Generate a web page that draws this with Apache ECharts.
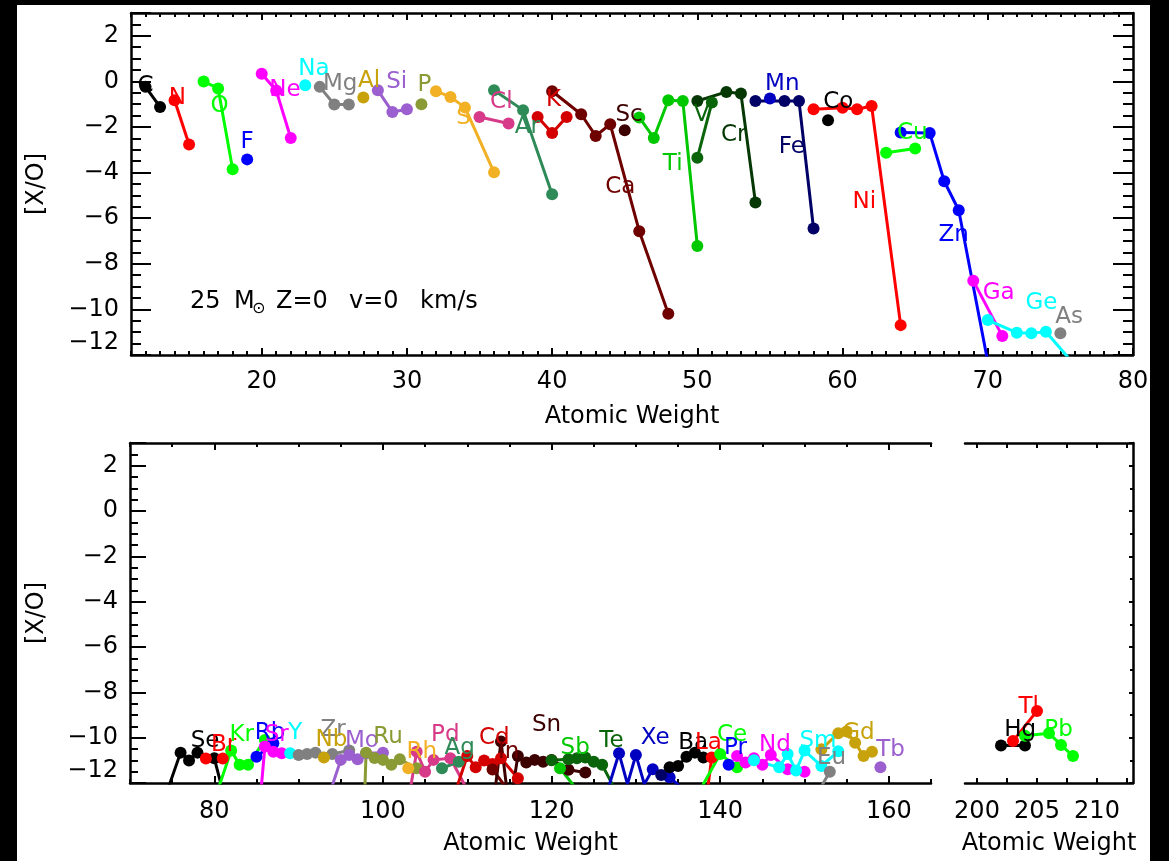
<!DOCTYPE html>
<html><head><meta charset="utf-8">
<script src="https://cdn.jsdelivr.net/npm/echarts@6/dist/echarts.min.js"></script>
<style>html,body{margin:0;padding:0;background:#fff;} #c{width:1169px;height:861px;}</style>
</head><body><div id="c"></div>
<script>
// ===== DATA: [atomic weight, [X/O]] =====
// --- top panel (C .. As) ---
const C_iso  = [[12,-0.24],[13,-1.12]];
const N_iso  = [[14,-0.83],[15,-2.77]];
const O_iso  = [[16,0.0],[17,-0.31],[18,-3.85]];
const F_iso  = [[19,-3.42]];
const Ne_iso = [[20,0.34],[21,-0.4],[22,-2.48]];
const Na_iso = [[23,-0.17]];
const Mg_iso = [[24,-0.24],[25,-1.01],[26,-1.01]];
const Al_iso = [[27,-0.71]];
const Si_iso = [[28,-0.39],[29,-1.34],[30,-1.22]];
const P_iso  = [[31,-1.0]];
const S_iso  = [[32,-0.43],[33,-0.68],[34,-1.15],[36,-3.99]];
const Cl_iso = [[35,-1.56],[37,-1.85]];
const Ar_iso = [[36,-0.39],[38,-1.26],[40,-4.95]];
const K_iso  = [[39,-1.56],[40,-2.26],[41,-1.56]];
const Ca_iso = [[40,-0.43],[42,-1.44],[43,-2.39],[44,-1.88],[46,-6.57],[48,-10.19]];
const Sc_iso = [[45,-2.14]];
const Ti_iso = [[46,-1.58],[47,-2.48],[48,-0.83],[49,-0.86],[50,-7.22]];
const V_iso  = [[50,-3.35],[51,-0.93]];
const Cr_iso = [[50,-0.86],[52,-0.46],[53,-0.53],[54,-5.31]];
const Mn_iso = [[55,-0.75]];
const Fe_iso = [[54,-0.86],[56,-0.86],[57,-0.86],[58,-6.45]];
const Co_iso = [[59,-1.70]];
const Ni_iso = [[58,-1.22],[60,-1.16],[61,-1.22],[62,-1.08],[64,-10.69]];
const Cu_iso = [[63,-3.13],[65,-2.94]];
const Zn_iso = [[64,-2.24],[66,-2.26],[67,-4.38],[68,-5.65],[70,-12.3]];
const Ga_iso = [[69,-8.74],[71,-11.17]];
const Ge_iso = [[70,-10.47],[72,-11.02],[73,-11.05],[74,-10.98],[76,-12.45]];
const As_iso = [[75,-11.05]];

const topNames = ['C','N','O','F','Ne','Na','Mg','Al','Si','P','S','Cl','Ar','K','Ca','Sc','Ti','V','Cr','Mn','Fe','Co','Ni','Cu','Zn','Ga','Ge','As'];
const topData = [C_iso,N_iso,O_iso,F_iso,Ne_iso,Na_iso,Mg_iso,Al_iso,Si_iso,P_iso,S_iso,Cl_iso,Ar_iso,K_iso,Ca_iso,Sc_iso,Ti_iso,V_iso,Cr_iso,Mn_iso,Fe_iso,Co_iso,Ni_iso,Cu_iso,Zn_iso,Ga_iso,Ge_iso,As_iso];
const topLabelAt = [[12.0,-0.2],[14.2,-0.75],[17.1,-1.1],[19.0,-2.65],[21.6,-0.4],[23.6,0.56],[25.4,-0.13],[27.4,0.0],[29.3,-0.02],[31.2,-0.17],[33.9,-1.6],[36.5,-0.9],[38.3,-2.0],[40.1,-0.83],[44.7,-4.62],[45.3,-1.48],[48.3,-3.63],[50.3,-1.48],[52.5,-2.36],[55.85,-0.12],[56.5,-2.9],[59.7,-0.9],[61.5,-5.28],[64.8,-2.26],[67.65,-6.74],[70.75,-9.3],[73.7,-9.7],[75.6,-10.35]];

// --- bottom panel (Se .. Tb) ---
const Se_iso = [[74,-12.8],[76,-10.66],[77,-11.01],[78,-10.66],[80,-10.91],[82,-13.8]];
const Br_iso = [[79,-10.92],[81,-10.92]];
const Kr_iso = [[78,-15],[80,-12.77],[82,-10.57],[83,-11.2],[84,-11.2],[86,-10.1]];
const Rb_iso = [[85,-10.84],[87,-10.25]];
const Sr_iso = [[84,-18.8],[86,-10.39],[87,-10.62],[88,-10.69]];
const Y_iso  = [[89,-10.69]];
const Zr_iso = [[90,-10.76],[91,-10.72],[92,-10.66],[94,-10.72],[96,-10.57]];
const Nb_iso = [[93,-10.88]];
const Mo_iso = [[92,-14.5],[94,-12.1],[95,-10.98],[96,-10.76],[97,-10.95],[98,-10.69],[100,-10.66]];
const Ru_iso = [[96,-33],[98,-10.66],[99,-10.9],[100,-10.98],[101,-11.2],[102,-10.95],[104,-11.35]];
const Rh_iso = [[103,-11.35]];
const Pd_iso = [[102,-15],[104,-10.62],[105,-11.5],[106,-10.98],[108,-10.91],[110,-12.3]];
const Ag_iso = [[107,-11.35],[109,-11.06]];
const Cd_iso = [[106,-15],[108,-13.05],[110,-10.81],[111,-11.31],[112,-11.01],[113,-11.16],[114,-10.91],[116,-11.79]];
const In_iso = [[113,-11.4],[115,-12.4]];
const Sn_iso = [[112,-16.3],[114,-10.17],[115,-13.2],[116,-10.81],[117,-11.1],[118,-10.98],[119,-11.06],[120,-10.98],[122,-11.42],[124,-11.54]];
const Sb_iso = [[121,-11.35],[123,-12.29]];
const Te_iso = [[120,-11.0],[122,-10.95],[123,-10.91],[124,-10.87],[125,-11.06],[126,-11.2],[128,-12.63],[130,-13.5]];
const I_iso  = [[127,-12.6]];
const Xe_iso = [[124,-15],[126,-13.1],[128,-10.69],[129,-12.05],[130,-10.76],[131,-12.05],[132,-11.39],[134,-11.75],[136,-12.4]];
const Cs_iso = [[133,-11.65]];
const Ba_iso = [[134,-11.31],[135,-11.25],[136,-10.84],[137,-10.66],[138,-10.87]];
const La_iso = [[138,-13.7],[139,-10.87]];
const Ce_iso = [[136,-14],[138,-12.05],[140,-10.72],[142,-11.31]];
const Pr_iso = [[141,-11.2]];
const Nd_iso = [[142,-10.81],[143,-11.1],[144,-10.91],[145,-11.2],[146,-10.76],[148,-11.39],[150,-11.5]];
const Sm_iso = [[144,-11.0],[147,-11.31],[148,-10.72],[149,-11.45],[150,-10.57],[152,-11.25],[154,-10.6]];
const Eu_iso = [[151,-12.8],[153,-11.5]];
const Gd_iso = [[152,-10.51],[154,-9.81],[155,-9.73],[156,-10.22],[157,-10.81],[158,-10.62]];
const Tb_iso = [[159,-11.31]];

const botNames = ['Se','Br','Kr','Rb','Sr','Y','Zr','Nb','Mo','Ru','Rh','Pd','Ag','Cd','In','Sn','Sb','Te','I','Xe','Cs','Ba','La','Ce','Pr','Nd','Sm','Eu','Gd','Tb'];
const botData = [Se_iso,Br_iso,Kr_iso,Rb_iso,Sr_iso,Y_iso,Zr_iso,Nb_iso,Mo_iso,Ru_iso,Rh_iso,Pd_iso,Ag_iso,Cd_iso,In_iso,Sn_iso,Sb_iso,Te_iso,I_iso,Xe_iso,Cs_iso,Ba_iso,La_iso,Ce_iso,Pr_iso,Nd_iso,Sm_iso,Eu_iso,Gd_iso,Tb_iso];
const botLabelAt = [[78.9,-10.17],[81.1,-10.32],[83.25,-9.88],[86.6,-9.81],[87.4,-9.88],[89.6,-9.81],[94.1,-9.66],[93.9,-10.12],[97.5,-10.17],[100.6,-9.95],[104.6,-10.62],[107.4,-9.88],[109.1,-10.47],[113.2,-10.03],[114.9,-10.62],[119.4,-9.44],[122.8,-10.47],[127.1,-10.17],null,[132.3,-10.03],null,[136.8,-10.25],[138.6,-10.25],[141.4,-9.88],[141.8,-10.47],[146.5,-10.32],[151.6,-10.17],[153.2,-10.91],[156.4,-9.81],[160.2,-10.54]];

// --- right panel (Hg, Tl, Pb) ---
const Hg_iso = [[202,-10.35],[204,-10.35]];
const Tl_iso = [[203,-10.15],[205,-8.82]];
const Pb_iso = [[204,-9.92],[206,-9.81],[207,-10.32],[208,-10.81]];
const rightNames = ['Hg','Tl','Pb'];
const rightData = [Hg_iso,Tl_iso,Pb_iso];
const rightLabelAt = [[203.6,-9.66],[204.3,-8.63],[206.8,-9.66]];

// ---- tick labels ----
const topXLabels = [20,30,40,50,60,70,80];
const botXLabels = [80,100,120,140,160];
const rightXLabels = [200,205,210];
const rightXTicks = [200,202.5,205,207.5,210,212.5];
const yLabelsShown = [2,0,-2,-4,-6,-8,-10,-12];
const annotation = ['25','M','\u2299','Z=0','v=0','km/s'];

// ===== STYLE / LAYOUT =====
const PALETTE = ['#000000','#ff0000','#00ff00','#0000ff','#ff00ff','#00ffff','#808080','#c8a20a','#9b5fcf','#8a9a35','#f2b124','#d63a88','#2e8b57','#d40000','#6e0000','#3c0000','#00c800','#0a640a','#063806','#0000c0','#000066'];
const FONT = 'DejaVu Sans';
const minus = v => String(v).replace('-', '\u2212');
function range(a, b, s) { const r = []; for (let v = a; v <= b + 1e-9; v += s) r.push(+v.toFixed(4)); return r; }

const grids = [
  {left:131, top:13, width:1002, height:342},
  {left:130, top:443, width:801, height:340},
  {left:965, top:443, width:168, height:340}
];

const xAxes = [];
function addX(g, min, max, majors, minors, labels, majLen, minLen, nameGap, margin) {
  const base = {gridIndex:g, type:'value', min, max, splitLine:{show:false}, axisPointer:{show:false}};
  const line = {onZero:false, lineStyle:{color:'#000', width:2.5}};
  const tickStyle = {color:'#000', width:2};
  const idx = xAxes.length;
  xAxes.push(Object.assign({}, base, {position:'bottom', axisLine:line,
    axisTick:{inside:true, length:majLen, lineStyle:tickStyle, customValues:majors},
    axisLabel:{customValues:labels, margin, fontSize:24, fontFamily:FONT, color:'#000', formatter:minus},
    name:'Atomic Weight', nameLocation:'middle', nameGap, nameTextStyle:{fontSize:24, fontFamily:FONT, color:'#000'}}));
  xAxes.push(Object.assign({}, base, {position:'bottom', axisLine:{show:false, onZero:false},
    axisTick:{inside:true, length:minLen, lineStyle:tickStyle, customValues:minors}, axisLabel:{show:false}}));
  xAxes.push(Object.assign({}, base, {position:'top', axisLine:line,
    axisTick:{inside:true, length:majLen, lineStyle:tickStyle, customValues:majors}, axisLabel:{show:false}}));
  xAxes.push(Object.assign({}, base, {position:'top', axisLine:{show:false, onZero:false},
    axisTick:{inside:true, length:minLen, lineStyle:tickStyle, customValues:minors}, axisLabel:{show:false}}));
  return idx;
}
const yAxes = [];
function addY(g, pos, majLen, minLen, split, labels, show) {
  const idx = yAxes.length;
  yAxes.push({gridIndex:g, type:'value', min:-12, max:3, interval:2, position:pos, show,
    splitLine:{show:false}, axisPointer:{show:false},
    axisLine:{onZero:false, lineStyle:{color:'#000', width:2.5}},
    axisTick:{inside:true, length:majLen, lineStyle:{color:'#000', width:2}},
    minorTick:{show:true, splitNumber:split, length:minLen, lineStyle:{color:'#000', width:2}},
    axisLabel: labels ? {margin:12, fontSize:24, fontFamily:FONT, color:'#000', verticalAlignMinLabel:'bottom',
      formatter: v => yLabelsShown.indexOf(v) >= 0 ? minus(v) : ''} : {show:false}});
  return idx;
}

const x0 = addX(0, 11, 80, topXLabels, range(11, 80, 1), topXLabels, 7, 4, 50, 15);
const x1 = addX(1, 70, 165, botXLabels, range(70, 165, 5), botXLabels, 7, 4, 49, 17);
const x2 = addX(2, 199, 213, rightXTicks, rightXTicks, rightXLabels, 5, 5, 49, 17);
const y0 = addY(0, 'left', 20, 10, 4, true, true);  addY(0, 'right', 20, 10, 4, false, true);
const y1 = addY(1, 'left', 16, 8, 4, true, true);
addY(2, 'left', 4, 3, 2, false, false);
addY(2, 'right', 4, 3, 2, false, true);
const y2 = 3;

const series = [];
function addPanel(names, datas, labelAt, xi, yi) {
  names.forEach((nm, i) => {
    const col = PALETTE[i % PALETTE.length];
    series.push({type:'line', name:nm, xAxisIndex:xi, yAxisIndex:yi, data:datas[i],
      symbol:'circle', symbolSize:12, showAllSymbol:true, clip:true, silent:true,
      lineStyle:{color:col, width:3}, itemStyle:{color:col, opacity:1}, emphasis:{disabled:true}, z:2});
  });
  const lab = [];
  names.forEach((nm, i) => { if (labelAt[i]) lab.push({value:labelAt[i], name:nm, label:{color:PALETTE[i % PALETTE.length]}}); });
  series.push({type:'scatter', xAxisIndex:xi, yAxisIndex:yi, symbolSize:1, silent:true, z:3,
    itemStyle:{color:'rgba(255,255,255,0)', opacity:1}, data:lab, emphasis:{disabled:true},
    label:{show:true, position:'inside', formatter:'{b}', fontSize:23, fontFamily:FONT, opacity:1}});
}
addPanel(topNames, topData, topLabelAt, x0, y0);
addPanel(botNames, botData, botLabelAt, x1, y1);
addPanel(rightNames, rightData, rightLabelAt, x2, y2);

const txt = (t, x, y, size) => ({type:'text', x, y, silent:true,
  style:{text:t, fill:'#000', font: size + 'px "' + FONT + '"', align:'left', verticalAlign:'middle', textAlign:'left', textVerticalAlign:'middle'}});

const graphic = [
  {type:'rect', shape:{x:0, y:0, width:17, height:861}, style:{fill:'#000'}, silent:true},
  {type:'rect', shape:{x:0, y:0, width:1169, height:5}, style:{fill:'#000'}, silent:true},
  {type:'rect', shape:{x:1150, y:0, width:19, height:861}, style:{fill:'#000'}, silent:true},
  txt(annotation[0], 190, 302, 24),
  txt(annotation[1], 234, 302, 24),
  txt(annotation[2], 252, 309, 16),
  txt(annotation[3], 276, 302, 24),
  txt(annotation[4], 349, 302, 24),
  txt(annotation[5], 420, 302, 24),
  {type:'text', x:37, y:184, rotation:Math.PI/2, silent:true,
   style:{text:'[X/O]', fill:'#000', font:'24px "' + FONT + '"', align:'center', verticalAlign:'middle', textAlign:'center', textVerticalAlign:'middle'}},
  {type:'text', x:37, y:613, rotation:Math.PI/2, silent:true,
   style:{text:'[X/O]', fill:'#000', font:'24px "' + FONT + '"', align:'center', verticalAlign:'middle', textAlign:'center', textVerticalAlign:'middle'}}
];

const chart = echarts.init(document.getElementById('c'), null, {renderer:'canvas'});
chart.setOption({
  backgroundColor:'#fff', animation:false, textStyle:{fontFamily:FONT},
  grid: grids, xAxis: xAxes, yAxis: yAxes, series, graphic
});
</script></body></html>
